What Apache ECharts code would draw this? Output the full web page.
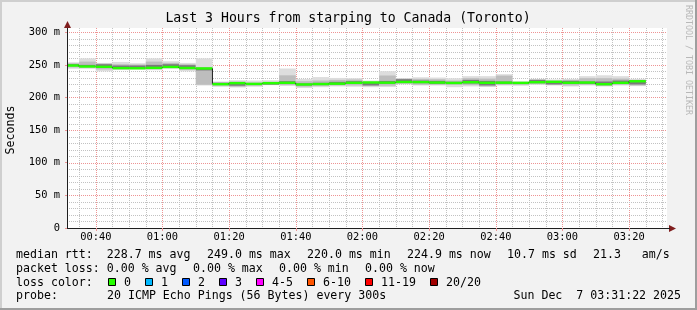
<!DOCTYPE html>
<html><head><meta charset="utf-8">
<script src="https://cdn.jsdelivr.net/npm/echarts@6/dist/echarts.min.js"></script>
<style>html,body{margin:0;padding:0;background:#f2f2f2}#c{width:697px;height:310px}</style>
</head><body><div id="c"></div>
<script>
// ---------- data ----------
const TITLE = 'Last 3 Hours from starping to Canada (Toronto)';
const Y_NAME = 'Seconds';
const WATERMARK = 'RRDTOOL / TOBI OETIKER';
const X_MIN = 31 + 22 / 60;      // 00:31:22 (minutes after midnight)
const X_MAX = X_MIN + 180;       // 03:31:22
const Y_MIN = 0, Y_MAX = 306.5;
const X_TICKS = [40, 60, 80, 100, 120, 140, 160, 180, 200];
const X_TICK_LABELS = ['00:40', '01:00', '01:20', '01:40', '02:00', '02:20', '02:40', '03:00', '03:20'];
const Y_TICKS = [0, 50, 100, 150, 200, 250, 300];
const Y_TICK_LABELS = ['0', '50 m', '100 m', '150 m', '200 m', '250 m', '300 m'];
const STEP_MIN = 5;
const STEP_END = [35, 40, 45, 50, 55, 60, 65, 70, 75, 80, 85, 90, 95, 100, 105, 110, 115, 120,
  125, 130, 135, 140, 145, 150, 155, 160, 165, 170, 175, 180, 185, 190, 195, 200, 205];
const MEDIAN = [249.0, 247.5, 247.0, 245.0, 244.8, 245.4, 246.8, 245.2, 244.5,
  220.4, 222.0, 220.8, 222.0, 222.5, 220.0, 220.6, 221.2, 222.5, 223.0, 222.7, 223.8, 223.6,
  222.9, 222.3, 223.4, 222.5, 222.7, 222.4, 223.5, 224.0, 222.6, 222.9, 220.4, 222.5, 224.9];
const SMOKE_MIN = [244, 244, 240, 242, 243, 241.8, 244, 240, 218.4,
  216.3, 215.3, 216.5, 218.9, 217.8, 214.5, 215.8, 217, 216.5, 215.8, 216, 220, 218.4,
  218.4, 215.8, 217, 216.3, 218.4, 218, 219.4, 218.4, 216.9, 218.4, 216.9, 218.4, 217.4];
const SMOKE_LO = [246, 245.5, 243, 243.5, 243.8, 243.5, 245.5, 242.5, 219.5,
  218, 216.5, 218, 219.3, 219, 216.5, 217.5, 218.5, 218.5, 217.5, 218, 221, 219.5,
  219.5, 219.5, 219, 217, 219.5, 219.5, 220.5, 219.5, 218.5, 219.5, 218, 219.5, 218.5];
const SMOKE_DLO = [248, 247, 246, 244.5, 244.5, 245, 246.5, 244.5, 241.5,
  219.5, 218, 219.5, 219.8, 221, 218.5, 219.5, 220, 221, 218.5, 221, 222.5, 222,
  221, 221, 221.5, 218.5, 221, 221, 222, 220, 221, 221, 219, 221, 220];
const SMOKE_DHI = [251, 250, 251, 249, 249, 250, 251, 249.5, 245.5,
  222.5, 222, 222, 222.5, 225, 221.5, 222.5, 224, 225, 223.5, 225.4, 228, 226,
  225.5, 224, 227, 225.5, 224.5, 223.5, 227, 225, 225.5, 224.5, 224.5, 226, 226];
const SMOKE_HI = [252.5, 255, 252, 251, 250.5, 255, 253, 251, 246.5,
  223.5, 224.5, 223, 224, 234, 225, 226, 227, 227.5, 224.5, 233.7, 228.8, 228.6,
  228, 226, 229.6, 229, 233.5, 224, 227.5, 226, 227, 229.6, 229.6, 229, 227];
const SMOKE_MAX = [254, 260, 253, 254.5, 252.5, 260, 255.5, 253, 260,
  224.5, 226.5, 226, 226.5, 244.4, 228.5, 231.3, 230, 229.6, 226, 240.3, 229.6, 231,
  230.6, 229.5, 232.7, 232.7, 235.7, 224.5, 228.6, 227.6, 228.6, 232.7, 234, 232.7, 228.6];

const LEGEND_RTT = ['median rtt:  228.7 ms avg', '249.0 ms max', '220.0 ms min', '224.9 ms now', '10.7 ms sd', '21.3   am/s'];
const LEGEND_LOSS = ['packet loss: 0.00 % avg', '0.00 % max', '0.00 % min', '0.00 % now'];
const LOSS_TITLE = 'loss color:';
const LOSS_LABELS = ['0', '1', '2', '3', '4-5', '6-10', '11-19', '20/20'];
const LOSS_COLORS = ['#26ff00', '#00b8ff', '#0059ff', '#5e00ff', '#ff00ff', '#ff5500', '#ff0000', '#a10000'];
const PROBE_TITLE = 'probe:';
const PROBE_TEXT = '20 ICMP Echo Pings (56 Bytes) every 300s';
const STAMP = 'Sun Dec  7 03:31:22 2025';

// ---------- styles ----------
const FONT = '"DejaVu Sans Mono", monospace';
const CW = 7.0;           // legend char advance
const GAP = 16;
const C_MINOR = '#c2c2c2', C_MAJOR = '#ee9494';

const chart = echarts.init(document.getElementById('c'), null, { renderer: 'canvas', width: 697, height: 310 });

// grid lines (positions derived from the axis spacing)
const gridItems = [];
for (let t = 35; t < X_MAX; t += 5) gridItems.push([0, t, t % 20 === 0 ? 1 : 0]);
for (let v = 10; v <= 300; v += 10) gridItems.push([1, v, v % 50 === 0 ? 1 : 0]);

function renderGrid(params, api) {
  const cs = params.coordSys;
  const kind = api.value(0), v = api.value(1), major = api.value(2);
  let shape;
  if (kind === 0) {
    const x = Math.round(api.coord([v, 0])[0]) + 0.5;
    shape = { x1: x, y1: cs.y, x2: x, y2: cs.y + cs.height };
  } else {
    const y = Math.round(api.coord([X_MIN, v])[1]) + 0.5;
    shape = { x1: cs.x, y1: y, x2: cs.x + cs.width, y2: y };
  }
  return { type: 'line', shape, silent: true,
    style: { stroke: major ? C_MAJOR : C_MINOR, lineWidth: 1, lineDash: [1, 1] } };
}

const smokeData = STEP_END.map((t, i) => [t, MEDIAN[i], SMOKE_MIN[i], SMOKE_LO[i], SMOKE_DLO[i],
  SMOKE_DHI[i], SMOKE_HI[i], SMOKE_MAX[i], i > 0 ? MEDIAN[i - 1] : MEDIAN[i]]);

function renderSmoke(params, api) {
  const t1 = api.value(0);
  const t0 = Math.max(t1 - STEP_MIN, X_MIN);
  const x0 = api.coord([t0, 0])[0];
  const x1 = api.coord([t1, 0])[0];
  const py = v => api.coord([t1, v])[1];
  const band = (a, b, fill) => {
    const ya = py(a), yb = py(b);
    return { type: 'rect', shape: { x: x0, y: yb, width: x1 - x0, height: ya - yb }, style: { fill } };
  };
  const ym = py(api.value(1)), yp = py(api.value(8));
  return { type: 'group', silent: true, children: [
    band(api.value(2), api.value(7), '#dddddd'),
    band(api.value(3), api.value(6), '#bdbdbd'),
    band(api.value(4), api.value(5), '#7a7a7a'),
    { type: 'line', shape: { x1: x0, y1: yp, x2: x0, y2: ym }, style: { stroke: '#202020', lineWidth: 1 } },
    { type: 'rect', shape: { x: x0, y: ym - 1.2, width: x1 - x0, height: 2.4 }, style: { fill: LOSS_COLORS[0] } }
  ] };
}

// ---------- legend graphics ----------
const g = [];
const txt = (x, y, s, extra) => Object.assign({ type: 'text', x, y, silent: true,
  style: { text: s, fill: '#000', font: '11.6px ' + FONT, textAlign: 'left', textVerticalAlign: 'middle' } }, extra || {});
// frame shades
g.push({ type: 'rect', shape: { x: 0, y: 0, width: 697, height: 2 }, style: { fill: '#cfcfcf' }, silent: true });
g.push({ type: 'rect', shape: { x: 0, y: 0, width: 2, height: 310 }, style: { fill: '#cfcfcf' }, silent: true });
g.push({ type: 'rect', shape: { x: 0, y: 308, width: 697, height: 2 }, style: { fill: '#9e9e9e' }, silent: true });
g.push({ type: 'rect', shape: { x: 695, y: 0, width: 2, height: 310 }, style: { fill: '#9e9e9e' }, silent: true });
// title etc
g.push({ type: 'text', x: 348, y: 19, silent: true, style: { text: TITLE, fill: '#000', font: '13.2px ' + FONT, textAlign: 'center', textVerticalAlign: 'middle' } });
g.push({ type: 'text', x: 10.5, y: 130, rotation: Math.PI / 2, silent: true, style: { text: Y_NAME, fill: '#000', font: '11.6px ' + FONT, textAlign: 'center', textVerticalAlign: 'middle' } });
g.push({ type: 'text', x: 688, y: 60, rotation: -Math.PI / 2, silent: true, style: { text: WATERMARK, fill: '#b8b8b8', font: '8.3px ' + FONT, textAlign: 'center', textVerticalAlign: 'middle' } });
// arrows
g.push({ type: 'polygon', shape: { points: [[67.5, 21], [64, 28], [71, 28]] }, style: { fill: '#801f1f' }, silent: true, z: 20 });
g.push({ type: 'polygon', shape: { points: [[676, 228.5], [669, 225], [669, 232]] }, style: { fill: '#801f1f' }, silent: true, z: 20 });
g.push({ type: 'line', shape: { x1: 667, y1: 228.5, x2: 670, y2: 228.5 }, style: { stroke: '#1f1f1f', lineWidth: 1 }, silent: true, z: 20 });

const L1 = 255.3, L2 = 269, L3 = 282.7, L4 = 296.4;
let x = 16;
LEGEND_RTT.forEach(s => { g.push(txt(x, L1, s)); x += s.length * CW + GAP; });
x = 16;
LEGEND_LOSS.forEach(s => { g.push(txt(x, L2, s)); x += s.length * CW + GAP; });
g.push(txt(16, L3, LOSS_TITLE));
x = 108.3;
LOSS_LABELS.forEach((s, i) => {
  g.push({ type: 'rect', shape: { x: Math.round(x) + 0.5, y: 278.5, width: 7, height: 7 }, silent: true,
    style: { fill: LOSS_COLORS[i], stroke: '#000', lineWidth: 1 } });
  g.push(txt(x + 15.7, L3, s));
  x += 30 + s.length * CW;
});
g.push(txt(16, L4, PROBE_TITLE));
g.push(txt(107, L4, PROBE_TEXT));
g.push(txt(681, L4, STAMP, {}));
g[g.length - 1].style.textAlign = 'right';

chart.setOption({
  animation: false,
  backgroundColor: '#f2f2f2',
  textStyle: { fontFamily: FONT },
  grid: { left: 67, right: 30, top: 28, bottom: 82, show: true, backgroundColor: '#ffffff', borderWidth: 0 },
  xAxis: {
    type: 'value', min: X_MIN, max: X_MAX, z: 10,
    axisLine: { show: true, lineStyle: { color: '#1f1f1f', width: 1 } },
    splitLine: { show: false },
    axisTick: { show: true, customValues: X_TICKS, length: 3, lineStyle: { color: C_MAJOR } },
    axisLabel: { customValues: X_TICKS, margin: 4, color: '#000', fontSize: 10.4, fontFamily: FONT,
      formatter: v => X_TICK_LABELS[X_TICKS.indexOf(Math.round(v))] || '' }
  },
  yAxis: {
    type: 'value', min: Y_MIN, max: Y_MAX, z: 10,
    axisLine: { show: true, lineStyle: { color: '#1f1f1f', width: 1 } },
    splitLine: { show: false },
    axisTick: { show: true, customValues: Y_TICKS, length: 2, lineStyle: { color: C_MAJOR } },
    axisLabel: { customValues: Y_TICKS, margin: 7, color: '#000', fontSize: 10.4, fontFamily: FONT,
      formatter: v => Y_TICK_LABELS[Y_TICKS.indexOf(Math.round(v))] || '' }
  },
  series: [
    { type: 'custom', name: 'grid', renderItem: renderGrid, data: gridItems, z: 1, silent: true,
      encode: { x: 1, y: 1 } },
    { type: 'custom', name: 'smoke', renderItem: renderSmoke, data: smokeData, z: 2, silent: true,
      encode: { x: 0, y: 1 } }
  ],
  graphic: g
});
</script></body></html>
